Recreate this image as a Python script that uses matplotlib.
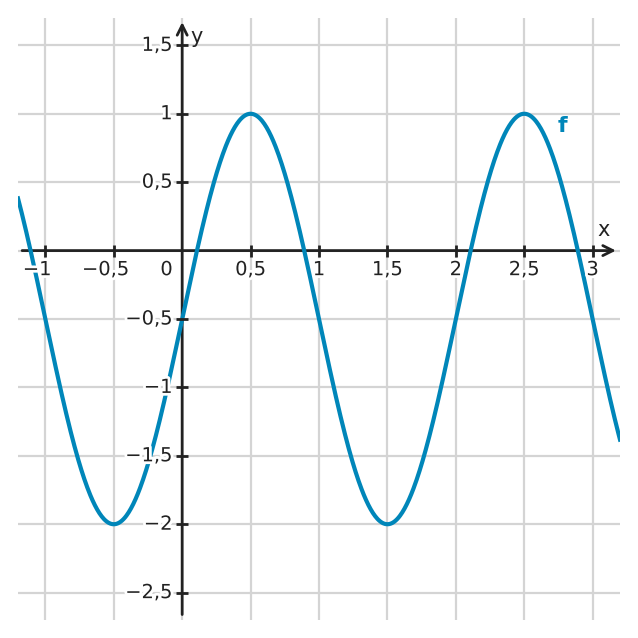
import numpy as np
import matplotlib.pyplot as plt
import matplotlib.patheffects as pe
from matplotlib.transforms import offset_copy

# function f(x) = amp * sin(pi * x / half_period) + offset
amp = 1.5
offset = -0.5
half_period = 1.0
x_range = (-1.2, 3.2)

x_ticks = [-1, -0.5, 0.5, 1, 1.5, 2, 2.5, 3]
x_labels = ['−1', '−0,5', '0,5', '1', '1,5', '2', '2,5', '3']
y_ticks = [-2.5, -2, -1.5, -1, -0.5, 0.5, 1, 1.5]
y_labels = ['−2,5', '−2', '−1,5', '−1', '−0,5', '0,5', '1', '1,5']

blue = '#0086b9'
dark = '#222222'
fs = 14

fig = plt.figure(figsize=(6.38, 6.38), dpi=100)
ax = fig.add_axes([18 / 638, 18 / 638, 602 / 638, 602 / 638])
ax.set_xlim(-1.2, 3.2)
ax.set_ylim(-2.7, 1.7)
for s in ax.spines.values():
    s.set_visible(False)

# grid
ax.set_xticks(x_ticks[:2] + [0] + x_ticks[2:])
ax.set_yticks(y_ticks[:5] + [0] + y_ticks[5:])
ax.tick_params(length=0, labelbottom=False, labelleft=False)
ax.grid(True, color='#d4d4d4', lw=1.6)
ax.set_axisbelow(True)

# axes with arrows
ax.annotate('', xy=(3.17, 0), xytext=(-1.17, 0),
            arrowprops=dict(arrowstyle='->', color=dark, lw=2, mutation_scale=18,
                            shrinkA=0, shrinkB=0), zorder=3)
ax.annotate('', xy=(0, 1.67), xytext=(0, -2.66),
            arrowprops=dict(arrowstyle='->', color=dark, lw=2, mutation_scale=18,
                            shrinkA=0, shrinkB=0), zorder=3)

# curve
xs = np.linspace(x_range[0], x_range[1], 800)
ys = amp * np.sin(np.pi * xs / half_period) + offset
ax.plot(xs, ys, color=blue, lw=3, zorder=4)

# tick marks
ax.plot(x_ticks, [0] * len(x_ticks), ls='none', marker='|', ms=8, mew=2, color=dark, zorder=5)
ax.plot([0] * len(y_ticks), y_ticks, ls='none', marker='_', ms=8, mew=2, color=dark, zorder=5)

halo = [pe.withStroke(linewidth=4, foreground='white')]
# negative labels: digits centred on the tick, minus hangs to the left
shift_neg = offset_copy(ax.transData, fig=fig, x=-0.838 * fs / 2, y=0, units='points')
for xv, lab in zip(x_ticks, x_labels):
    tr = shift_neg if lab.startswith('−') else ax.transData
    ax.text(xv, -0.07, lab, ha='center', va='top', fontsize=fs, color=dark,
            transform=tr, path_effects=halo, zorder=6)
for yv, lab in zip(y_ticks, y_labels):
    ax.text(-0.07, yv, lab, ha='right', va='center', fontsize=fs, color=dark,
            path_effects=halo, zorder=6)
ax.text(-0.07, -0.07, '0', ha='right', va='top', fontsize=fs, color=dark,
        path_effects=halo, zorder=6)

ax.text(3.08, 0.08, 'x', ha='center', va='bottom', fontsize=15, color=dark)
ax.text(0.06, 1.56, 'y', ha='left', va='center', fontsize=15, color=dark)
ax.text(2.78, 0.91, 'f', ha='center', va='center', fontsize=16, fontweight='bold', color=blue)

fig.savefig('out.png', dpi=100)
